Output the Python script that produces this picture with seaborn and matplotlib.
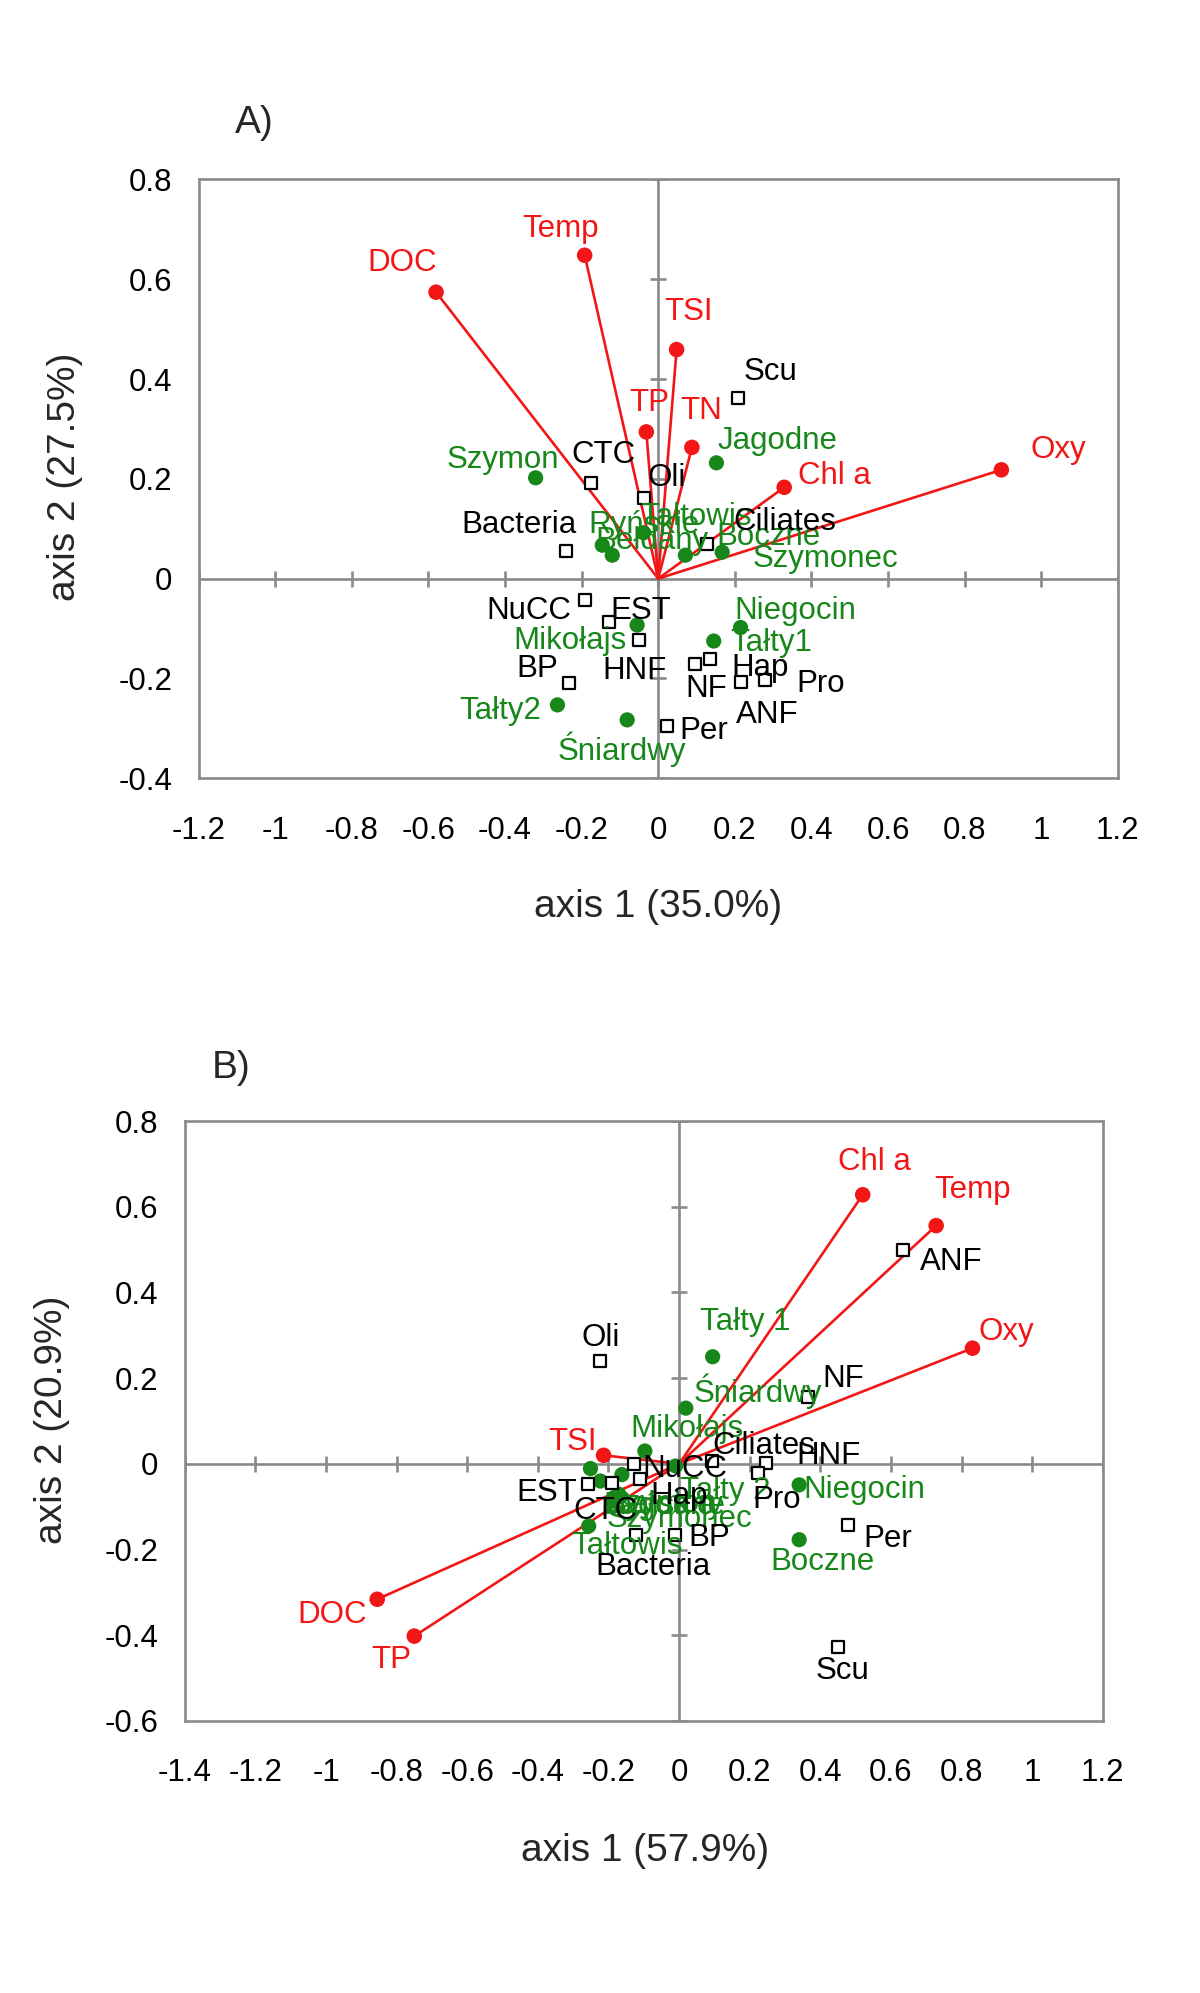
import matplotlib
matplotlib.use("Agg")
import matplotlib.pyplot as plt
import numpy as np
import pandas as pd
import seaborn as sns

sns.set_theme(style="white")
plt.rcParams["font.family"] = ["Liberation Sans", "DejaVu Sans"]

RED = "#f21616"
GREEN = "#17871a"
GRAY = "#8a8a8a"

# ---- panel A data (axis 1 35.0%, axis 2 27.5%) ----
a_env = ["DOC", "Temp", "TSI", "TP", "TN", "Chl a", "Oxy"]
a_env_x = [-0.580, -0.192, 0.048, -0.031, 0.088, 0.329, 0.896]
a_env_y = [0.574, 0.648, 0.459, 0.294, 0.263, 0.183, 0.218]

a_lakes = ["Szymon", "Jagodne", "Ryńskie", "Bełdany", "Tałtowis", "Boczne",
           "Szymonec", "Niegocin", "Tałty1", "Mikołajs", "Tałty2", "Śniardwy"]
a_lakes_x = [-0.320, 0.152, -0.146, -0.120, -0.038, 0.071,
             0.167, 0.215, 0.145, -0.055, -0.263, -0.081]
a_lakes_y = [0.202, 0.232, 0.067, 0.047, 0.092, 0.047,
             0.053, -0.098, -0.125, -0.093, -0.253, -0.283]

a_taxa = ["Scu", "CTC", "Oli", "Bacteria", "Ciliates", "NuCC", "EST",
          "HNF", "BP", "NF", "Hap", "ANF", "Pro", "Per"]
a_taxa_x = [0.209, -0.176, -0.037, -0.242, 0.128, -0.192, -0.129,
            -0.050, -0.233, 0.096, 0.136, 0.215, 0.280, 0.023]
a_taxa_y = [0.361, 0.191, 0.162, 0.055, 0.069, -0.043, -0.087,
            -0.123, -0.209, -0.171, -0.161, -0.208, -0.203, -0.295]

# ---- panel B data (axis 1 57.9%, axis 2 20.9%) ----
b_env = ["Chl a", "Temp", "Oxy", "TSI", "DOC", "TP"]
b_env_x = [0.520, 0.728, 0.831, -0.214, -0.855, -0.750]
b_env_y = [0.628, 0.556, 0.270, 0.020, -0.316, -0.402]

b_lakes = ["Tałty 1", "Śniardwy", "Mikołajs", "Niegocin", "Boczne", "Tałty 2",
           "Szymon", "Jagodne", "Bełdany", "Ryńskie", "Szymonec", "Tałtowis"]
b_lakes_x = [0.095, 0.019, -0.097, 0.340, 0.340, -0.010,
             -0.251, -0.223, -0.162, -0.171, -0.190, -0.256]
b_lakes_y = [0.250, 0.130, 0.030, -0.049, -0.177, -0.005,
             -0.011, -0.040, -0.025, -0.071, -0.085, -0.145]

b_taxa = ["ANF", "Oli", "NF", "Per", "Scu", "NuCC", "Hap", "CTC", "EST",
          "Bacteria", "BP", "Ciliates", "HNF", "Pro"]
b_taxa_x = [0.635, -0.224, 0.364, 0.477, 0.451, -0.127, -0.111, -0.190, -0.259,
            -0.121, -0.012, 0.094, 0.245, 0.223]
b_taxa_y = [0.500, 0.240, 0.157, -0.142, -0.428, 0.000, -0.035, -0.045, -0.046,
            -0.165, -0.165, 0.007, 0.003, -0.021]

a_xticks = np.round(np.arange(-1.2, 1.21, 0.2), 1)
a_yticks = np.round(np.arange(-0.4, 0.81, 0.2), 1)
b_xticks = np.round(np.arange(-1.4, 1.21, 0.2), 1)
b_yticks = np.round(np.arange(-0.6, 0.81, 0.2), 1)

# label offsets from the marker, in pixels (label centre)
a_off = {
    "DOC": (-34, 29), "Temp": (-24, 26), "TSI": (12, 38), "TP": (3, 29),
    "TN": (9, 36), "Chl a": (50, 11), "Oxy": (57, 20),
    "Szymon": (-33, 18), "Jagodne": (61, 22), "Ryńskie": (42, 20),
    "Bełdany": (40, 14), "Tałtowis": (52, 16), "Boczne": (83, 18),
    "Szymonec": (103, -7), "Niegocin": (55, 17), "Tałty1": (57, -2),
    "Mikołajs": (-67, -16), "Tałty2": (-57, -6), "Śniardwy": (-5, -29),
    "Scu": (32, 26), "CTC": (13, 28), "Oli": (23, 20), "Bacteria": (-47, 26),
    "Ciliates": (78, 22), "NuCC": (-56, -11), "EST": (32, 11), "HNF": (-5, -31),
    "BP": (-32, 14), "NF": (11, -25), "Hap": (50, -9), "ANF": (27, -33),
    "Pro": (55, -4), "Per": (37, -5),
}
b_off = {
    "Chl a": (12, 33), "Temp": (36, 36), "Oxy": (34, 16), "TSI": (-31, 13),
    "DOC": (-45, -16), "TP": (-23, -24),
    "Tałty 1": (33, 35), "Śniardwy": (72, 17), "Mikołajs": (42, 22),
    "Niegocin": (65, -5), "Boczne": (23, -22), "Tałty 2": (50, -25),
    "Szymon": (70, -35), "Jagodne": (65, -25), "Bełdany": (45, -30),
    "Ryńskie": (40, -12), "Szymonec": (67, -19), "Tałtowis": (38, -20),
    "ANF": (48, -12), "Oli": (1, 23), "NF": (36, 18), "Per": (40, -14),
    "Scu": (4, -24), "NuCC": (51, -5), "Hap": (39, -17), "CTC": (-7, -28),
    "EST": (-41, -9), "Bacteria": (17, -32), "BP": (34, -3),
    "Ciliates": (52, 15), "HNF": (63, 7), "Pro": (19, -27),
}


def tick_text(v):
    s = f"{v:.1f}".rstrip("0").rstrip(".")
    return "0" if s in ("-0", "") else s


def draw_panel(ax, env, lakes, taxa, xticks, yticks, offsets):
    env_df = pd.DataFrame({"name": env[0], "x": env[1], "y": env[2]})
    lake_df = pd.DataFrame({"name": lakes[0], "x": lakes[1], "y": lakes[2]})
    taxa_df = pd.DataFrame({"name": taxa[0], "x": taxa[1], "y": taxa[2]})

    ax.set_xlim(xticks[0], xticks[-1])
    ax.set_ylim(yticks[0], yticks[-1])

    # zero axes with crossing tick marks (Excel style)
    ax.axhline(0, color=GRAY, lw=1.9, zorder=1)
    ax.axvline(0, color=GRAY, lw=1.9, zorder=1)
    ax.plot(xticks, np.zeros_like(xticks), ls="none", marker="|", ms=12,
            mew=1.9, color=GRAY, zorder=1)
    ax.plot(np.zeros_like(yticks), yticks, ls="none", marker="_", ms=12,
            mew=1.9, color=GRAY, zorder=1)

    # environmental vectors
    for _, r in env_df.iterrows():
        ax.plot([0, r.x], [0, r.y], color=RED, lw=1.9, zorder=2)
    sns.scatterplot(data=env_df, x="x", y="y", ax=ax, color=RED, s=125,
                    edgecolor="none", legend=False, zorder=3)
    sns.scatterplot(data=lake_df, x="x", y="y", ax=ax, color=GREEN, s=120,
                    edgecolor="none", legend=False, zorder=4)
    sns.scatterplot(data=taxa_df, x="x", y="y", ax=ax, marker="s", s=85,
                    facecolor="white", edgecolor="black", linewidth=1.6,
                    legend=False, zorder=5)

    for df, col, z in ((lake_df, GREEN, 6), (taxa_df, "black", 7), (env_df, RED, 8)):
        for _, r in df.iterrows():
            ax.annotate(r["name"], (r.x, r.y), xytext=offsets[r["name"]],
                        textcoords="offset pixels", ha="center", va="center",
                        fontsize=22.5, color=col, zorder=z)

    ax.set_xticks(xticks)
    ax.set_yticks(yticks)
    ax.set_xticklabels([tick_text(v) for v in xticks])
    ax.set_yticklabels([tick_text(v) for v in yticks])
    ax.tick_params(axis="x", length=0, pad=27, labelsize=22.5, colors="black")
    ax.tick_params(axis="y", length=0, pad=19, labelsize=22.5, colors="black")
    ax.set_xlabel("")
    ax.set_ylabel("")
    for sp in ax.spines.values():
        sp.set_color(GRAY)
        sp.set_linewidth(1.9)
        sp.set_visible(True)


fig = plt.figure(figsize=(12, 19.93), dpi=100)
fig.patch.set_facecolor("white")

axA = fig.add_axes([0.1655, 0.6095, 0.766, 0.3005])
draw_panel(axA, (a_env, a_env_x, a_env_y), (a_lakes, a_lakes_x, a_lakes_y),
           (a_taxa, a_taxa_x, a_taxa_y), a_xticks, a_yticks, a_off)

axB = fig.add_axes([0.154, 0.1365, 0.765, 0.301])
draw_panel(axB, (b_env, b_env_x, b_env_y), (b_lakes, b_lakes_x, b_lakes_y),
           (b_taxa, b_taxa_x, b_taxa_y), b_xticks, b_yticks, b_off)

fig.text(254 / 1200, 1 - 123 / 1993, "A)", fontsize=28, ha="center", va="center")
fig.text(231 / 1200, 1 - 1068 / 1993, "B)", fontsize=28, ha="center", va="center")
fig.text(658 / 1200, 1 - 907 / 1993, "axis 1 (35.0%)", fontsize=28, ha="center", va="center")
fig.text(645 / 1200, 1 - 1851 / 1993, "axis 1 (57.9%)", fontsize=28, ha="center", va="center")
fig.text(65 / 1200, 1 - 477 / 1993, "axis 2 (27.5%)", fontsize=28, ha="center",
         va="center", rotation=90)
fig.text(52 / 1200, 1 - 1420 / 1993, "axis 2 (20.9%)", fontsize=28, ha="center",
         va="center", rotation=90)

fig.savefig("out.png", dpi=100, facecolor="white")
